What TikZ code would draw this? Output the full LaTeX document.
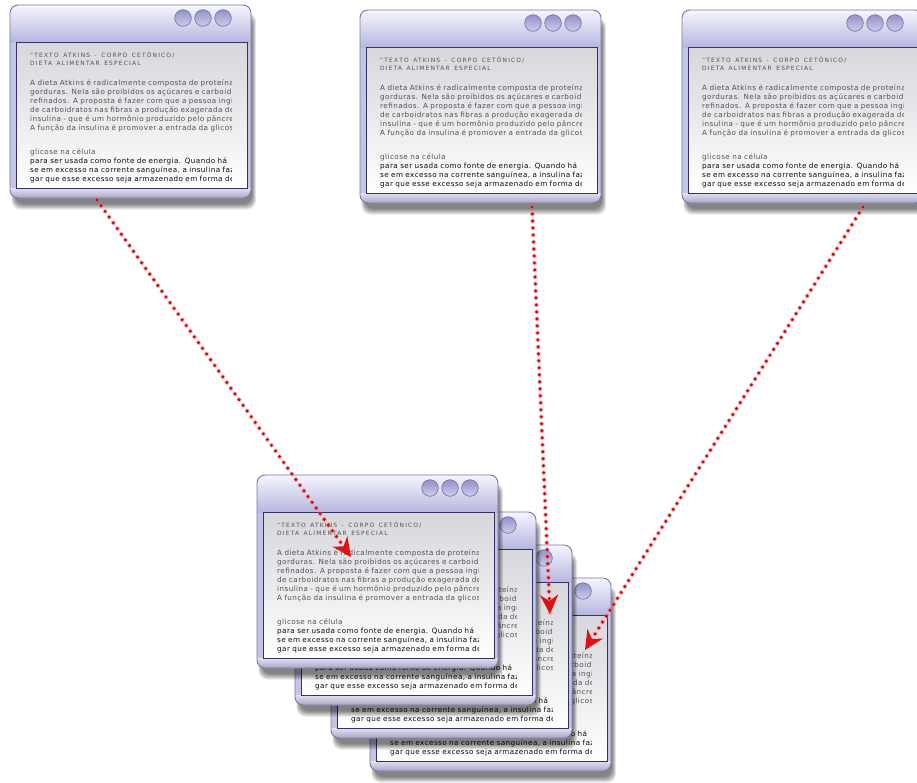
\documentclass[tikz,border=0pt]{standalone}
\usepackage{fontspec}
\setmainfont{DejaVu Sans}
\usetikzlibrary{arrows.meta,calc}
\definecolor{framefill}{RGB}{196,196,230}
\definecolor{frameline}{RGB}{120,120,168}
\definecolor{titletop}{RGB}{246,246,254}
\definecolor{titlebot}{RGB}{182,182,224}
\definecolor{contentline}{RGB}{50,50,100}
\definecolor{contenttop}{RGB}{214,214,220}
\definecolor{btntop}{RGB}{146,146,198}
\definecolor{btnbot}{RGB}{205,205,238}
\definecolor{btnline}{RGB}{108,108,162}
\definecolor{txtgray}{RGB}{82,82,82}
\definecolor{txtdark}{RGB}{10,10,10}
\definecolor{arrowred}{RGB}{222,18,18}
\definecolor{dotred}{RGB}{200,10,20}

\tikzset{
  x=1pt, y=-1pt,
  wintxt/.style={anchor=north west, inner sep=0pt, text width=400pt, align=left,
    text=txtgray, font=\fontsize{7.2}{9}\selectfont\addfontfeature{LetterSpace=6}},
  winhull/.style={inner sep=0pt, minimum width=241pt, minimum height=193pt, anchor=north west},
  btn/.style={draw=btnline, line width=0.6pt, top color=btntop, bottom color=btnbot},
  flowglow/.style={draw=red!55, opacity=0.45, line width=5pt, dash pattern=on 0pt off 7pt, line cap=round},
  flow/.style={draw=dotred, line width=3.4pt, dash pattern=on 0pt off 7pt, line cap=round,
    -{Stealth[length=19pt, width=18pt, inset=6pt, fill=arrowred, color=arrowred]}}
}

\newcommand{\wintext}{%
{\fontsize{5.9}{8}\selectfont\addfontfeature{LetterSpace=20}\spaceskip=4.6pt\relax
"TEXTO ATKINS - CORPO CETÔNICO/\\DIETA ALIMENTAR ESPECIAL\par}%
\vspace{11pt}%
A dieta Atkins é radicalmente composta de proteínas e\\
gorduras. Nela são proibidos os açúcares e carboidratos\\
refinados. A proposta é fazer com que a pessoa ingira\\
de carboidratos nas fibras a produção exagerada de\\
insulina - que é um hormônio produzido pelo pâncreas\\
A função da insulina é promover a entrada da glicose\par
\vspace{15pt}%
glicose na célula\par
{\color{txtdark}para ser usada como fonte de energia. Quando há\\
se em excesso na corrente sanguínea, a insulina faz\\
gar que esse excesso seja armazenado em forma de\par}}

\newcommand{\drawwin}[3]{%
\begin{scope}[shift={(#2,#3)}]
  \foreach \k in {0,...,5}{
    \fill[black, opacity=0.1, rounded corners=9] (5-\k*0.7, 12-\k*0.8) rectangle (242+\k*0.8, 199+\k*1.1);
  }
  \fill[framefill, rounded corners=8] (0,0) rectangle (241,193);
  \begin{scope}
    \clip[rounded corners=8] (0,0) rectangle (241,193);
    \shade[top color=titletop, bottom color=titlebot] (0,0) rectangle (241,37);
    \shade[top color=framefill!50!white, bottom color=framefill!85!black] (0,183) rectangle (241,193);
  \end{scope}
  \draw[frameline, line width=0.9pt, rounded corners=8] (0,0) rectangle (241,193);
  \shade[top color=contenttop, bottom color=white] (6,37) rectangle (237,183);
  \begin{scope}
    \clip (6,37) rectangle (221,183);
    \node[wintxt] (#1-text) at (20,46.5) {\wintext};
  \end{scope}
  \draw[contentline, line width=0.8pt] (6,37) rectangle (237,183);
  \foreach \bx in {173,193,213}{
    \path[btn] (\bx,13) circle (8.3);
  }
  \node[winhull] (#1) at (0,0) {};
\end{scope}}

\begin{document}
\begin{tikzpicture}
\useasboundingbox (0,0) rectangle (917,782);
\fill[white] (0,0) rectangle (917,782);

% stacked windows, back to front
\drawwin{stackD}{370}{578}
\drawwin{stackC}{331}{545}
\drawwin{stackB}{295}{512}
\drawwin{stackA}{257}{475}

% top windows
\drawwin{winL}{10}{5}
\drawwin{winM}{360}{10}
\drawwin{winR}{682}{10}

% connector ends
\coordinate (s1) at (97,200);
\coordinate (e1) at (351,557);
\coordinate (s2) at (532,207);
\coordinate (e2) at (550,614);
\coordinate (s3) at (863,207);
\coordinate (e3) at (585,650);

\draw[flowglow] (s1) -- (e1);
\draw[flowglow] (s2) -- (e2);
\draw[flowglow] (s3) -- (e3);
\draw[flow] (s1) -- (e1);
\draw[flow] (s2) -- (e2);
\draw[flow] (s3) -- (e3);
\end{tikzpicture}
\end{document}
